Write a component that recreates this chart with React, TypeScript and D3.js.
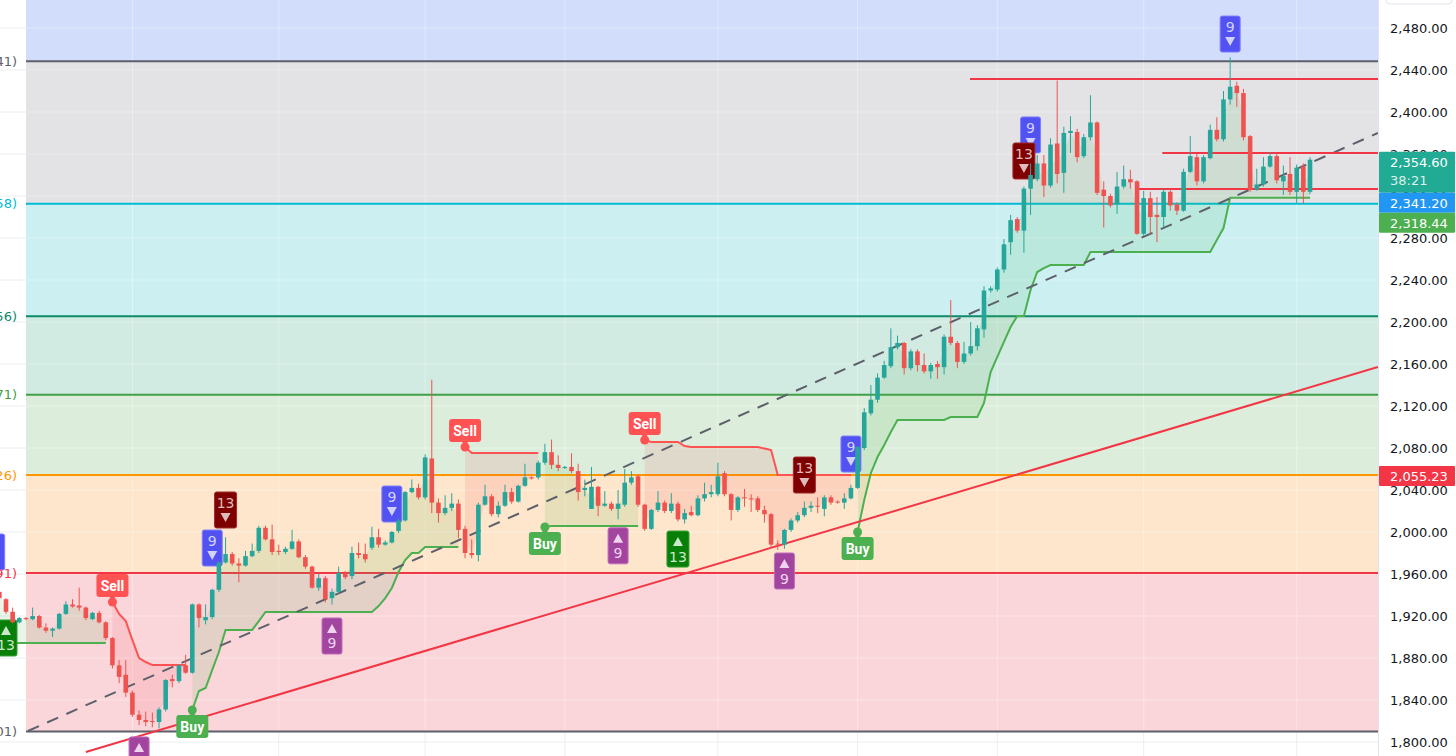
import React from "react";
import * as d3 from "d3";

const WIDTH = 1456;
const HEIGHT = 756;
const PLOT_RIGHT = 1378;
const FIB_LEFT = 26;

// OHLC candles: [open, high, low, close]
const candles: number[][] = [
  [1943,1945,1935,1937],[1936,1937,1922,1924],[1924,1928,1913,1914],[1914,1919,1913,1918],[1918,1919,1916,1917],
  [1917,1928,1916,1920],[1920,1921,1908,1909],[1909,1913,1904,1906],[1906,1909,1900,1908],[1908,1923,1907,1922],
  [1922,1934,1921,1931],[1931,1936,1928,1929],[1930,1947,1925,1928],[1928,1929,1916,1918],[1917,1924,1916,1923],
  [1923,1925,1913,1914],[1914,1915,1897,1899],[1899,1900,1870,1873],[1873,1878,1856,1862],[1864,1878,1843,1847],
  [1847,1849,1824,1826],[1826,1830,1816,1821],[1821,1829,1815,1819],[1820,1828,1814,1819],[1819,1833,1813,1831],
  [1831,1860,1829,1859],[1860,1864,1852,1858],[1858,1874,1856,1873],[1873,1883,1865,1866],[1866,1932,1865,1931],
  [1931,1932,1909,1918],[1916,1931,1912,1919],[1919,1946,1917,1945],[1945,1972,1943,1971],[1971,1995,1970,1979],
  [1979,1981,1968,1970],[1970,1975,1952,1968],[1968,1982,1967,1977],[1977,1989,1976,1982],[1982,2006,1980,2004],
  [2004,2006,1992,1993],[1993,2007,1978,1981],[1982,1988,1978,1981],[1981,1986,1979,1984],[1984,2002,1983,1991],
  [1991,1993,1975,1976],[1976,1978,1965,1967],[1967,1968,1946,1947],[1947,1960,1944,1956],[1956,1958,1933,1936],
  [1937,1946,1931,1943],[1943,1967,1941,1961],[1961,1963,1955,1957],[1958,1986,1955,1980],[1980,1990,1975,1978],
  [1979,1989,1971,1974],[1985,2005,1983,1995],[1995,2003,1985,1988],[1988,1992,1987,1990],[1990,2001,1989,2000],
  [2001,2013,1999,2011],[2011,2039,2010,2038],[2038,2050,2037,2042],[2042,2046,2031,2033],[2033,2074,2031,2071],
  [2070,2145,2018,2028],[2028,2032,2009,2018],[2018,2035,2016,2023],[2023,2037,2020,2027],[2027,2031,1994,2002],
  [2003,2006,1975,1980],[1980,1993,1975,1978],[1978,2028,1972,2026],[2026,2045,2025,2034],[2034,2036,2015,2017],
  [2017,2029,2014,2025],[2025,2045,2024,2038],[2038,2042,2027,2029],[2029,2045,2028,2044],[2044,2065,2043,2052],
  [2052,2053,2050,2051],[2052,2068,2050,2066],[2066,2084,2064,2076],[2076,2088,2060,2064],[2064,2073,2058,2061],
  [2061,2063,2060,2062],[2062,2075,2056,2058],[2058,2065,2030,2038],[2040,2050,2034,2042],[2022,2062,2022,2043],
  [2043,2044,2015,2025],[2025,2039,2024,2027],[2027,2029,2020,2022],[2022,2040,2012,2027],[2026,2060,2024,2047],
  [2047,2058,2045,2052],[2053,2055,2024,2026],[2026,2027,2001,2003],[2003,2022,2002,2021],[2021,2039,2019,2028],
  [2028,2030,2018,2020],[2020,2037,2018,2027],[2027,2029,2010,2012],[2012,2022,2008,2018],[2019,2025,2015,2016],
  [2016,2035,2015,2032],[2032,2047,2029,2036],[2036,2045,2033,2038],[2036,2066,2034,2053],[2056,2058,2034,2036],
  [2036,2037,2011,2021],[2021,2034,2019,2033],[2033,2041,2024,2032],[2032,2036,2019,2031],[2032,2034,2019,2021],
  [2021,2025,2009,2017],[2017,2018,1985,1988],[1989,1992,1983,1988],[1988,2003,1984,2002],[2002,2013,2000,2011],
  [2011,2019,2009,2016],[2016,2029,2014,2023],[2023,2029,2019,2025],[2025,2033,2018,2024],[2022,2035,2015,2033],
  [2033,2035,2026,2028],[2029,2030,2027,2028],[2028,2037,2022,2032],[2032,2045,2031,2042],[2042,2082,2041,2081],
  [2080,2118,2078,2114],[2113,2140,2111,2126],[2126,2151,2123,2147],[2147,2163,2146,2159],[2158,2194,2156,2176],
  [2176,2187,2174,2180],[2180,2181,2150,2156],[2156,2174,2154,2172],[2172,2174,2153,2159],[2159,2170,2151,2153],
  [2153,2161,2146,2159],[2160,2163,2146,2157],[2157,2188,2150,2186],[2186,2221,2178,2180],[2180,2182,2156,2162],
  [2162,2181,2160,2170],[2170,2200,2168,2177],[2177,2197,2173,2194],[2193,2234,2185,2230],[2230,2234,2228,2232],
  [2231,2252,2229,2250],[2250,2279,2247,2274],[2276,2302,2264,2297],[2298,2300,2285,2287],[2287,2329,2266,2327],
  [2327,2351,2302,2340],[2336,2359,2334,2351],[2351,2359,2319,2330],[2330,2375,2328,2369],[2370,2430,2332,2341],
  [2342,2386,2323,2380],[2380,2396,2361,2382],[2381,2384,2352,2357],[2358,2379,2356,2376],[2376,2416,2373,2390],
  [2390,2391,2321,2323],[2326,2334,2290,2320],[2320,2322,2309,2311],[2312,2343,2303,2329],[2329,2349,2327,2336],
  [2336,2345,2327,2333],[2334,2335,2283,2284],[2284,2325,2282,2318],[2318,2324,2284,2300],[2302,2319,2276,2300],
  [2300,2327,2290,2324],[2324,2327,2306,2311],[2312,2314,2302,2306],[2306,2346,2305,2343],[2343,2377,2342,2358],
  [2357,2360,2330,2334],[2334,2359,2332,2357],[2356,2388,2355,2383],[2383,2395,2372,2374],[2374,2420,2372,2412],
  [2412,2452,2407,2424],[2425,2429,2405,2418],[2418,2422,2373,2376],[2377,2378,2324,2326],[2326,2346,2325,2331],
  [2331,2357,2329,2348],[2348,2362,2347,2358],[2358,2361,2332,2335],[2334,2349,2321,2339],[2341,2357,2321,2324],
  [2324,2350,2313,2347],[2348,2351,2313,2324],[2324,2357,2322,2354.6],
];

const priceTicks = [1800,1840,1880,1920,1960,2000,2040,2080,2120,2160,2200,2240,2280,2320,2360,2400,2440,2480];

// Fibonacci retracement levels (top to bottom)
const fibPrices = [2448.41, 2312.58, 2205.56, 2130.71, 2054.26, 1960.91, 1810.01];
const fibLabels = ["1(2,448.41)", "0.786(2,312.58)", "0.618(2,205.56)", "0.5(2,130.71)", "0.382(2,054.26)", "0.236(1,960.91)", "0(1,810.01)"];
const fibColors = ["#5d606b", "#00bcd4", "#0c8a6a", "#43a047", "#ff9800", "#f23645", "#5d606b"];
const fibTopBand = "#d2ddfb";
const fibBands = ["#e3e3e6", "#ccf0f2", "#d1eae2", "#dceedb", "#fde6cb", "#fad6da"];

const timeGridIdx = [20, 42, 64, 85, 108, 129, 150, 172, 195];

// SuperTrend segments (dir 1 = up / green, -1 = down / red)
const stSegments = [
  { dir: 1, start: 0, values: [1894.3,1894.3,1894.3,1894.3,1894.3,1894.3,1894.3,1894.3,1894.3,1894.3,1894.3,1894.3,1894.3,1894.3,1894.3,1894.3,1894.3] },
  { dir: -1, start: 17, values: [1933.3,1921.9,1915.2,1897.1,1880,1876.2,1873.3,1873.3,1873.3,1873.3,1873.3,1873.3] },
  { dir: 1, start: 29, values: [1830.5,1848.6,1851.4,1868.6,1885.7,1906.7,1906.7,1906.7,1906.7,1906.7,1915.2,1923.8,
    1923.8,1923.8,1923.8,1923.8,1923.8,1923.8,1923.8,1923.8,1923.8,1923.8,1923.8,1923.8,1923.8,1923.8,1923.8,1923.8,
    1929.5,1937.1,1946.7,1961.9,1973.3,1980,1980,1985.7,1985.7,1985.7,1985.7,1985.7,1985.7] },
  { dir: -1, start: 70, values: [2081,2075.2,2075.2,2075.2,2075.2,2075.2,2075.2,2075.2,2075.2,2075.2,2075.2,2075.2] },
  { dir: 1, start: 82, values: [2004.8,2005.7,2005.7,2005.7,2005.7,2005.7,2005.7,2005.7,2005.7,2005.7,2005.7,2005.7,2005.7,2005.7,2005.7] },
  { dir: -1, start: 97, values: [2087.6,2085.7,2085.7,2085.7,2085.7,2085.7,2081.9,2081,2081,2081,2081,2081,2081,2081,2081,2081,2081,2081,
    2079.5,2078.1,2054.3,2054.3,2054.3,2054.3,2054.3,2054.3,2054.3,2054.3,2054.3,2054.3,2054.3,2054.3] },
  { dir: 1, start: 129, values: [2000,2030.5,2056.2,2071.4,2082.9,2095.2,2106.7,2106.7,2106.7,2106.7,2106.7,2106.7,2106.7,2106.7,
    2109.5,2109.5,2109.5,2109.5,2109.5,2122.9,2152.4,2166.7,2181,2195.2,2205.7,2205.7,2230.5,2247.6,2251.4,
    2254.3,2254.3,2254.3,2254.3,2254.3,2254.3,
    2266.7,2266.7,2266.7,2266.7,2266.7,2266.7,2266.7,2266.7,2266.7,2266.7,2266.7,2266.7,2266.7,2266.7,2266.7,2266.7,2266.7,2266.7,2266.7,
    2278.1,2289.5,2318.44,2318.44,2318.44,2318.44,2318.44,2318.44,2318.44,2318.44,2318.44,2318.44,2318.44,2318.44,2318.44] },
];

const signalIdx = [17, 29, 70, 82, 97, 129];
const signalText = ["Sell", "Buy", "Sell", "Buy", "Sell", "Buy"];

// TD sequential marks: index, kind, anchor price
const tdMarks = [
  { i: -0.7, kind: "s9", p: 1963.8 },
  { i: 32, kind: "s9", p: 1967.6 },
  { i: 34, kind: "s13", p: 2003.8 },
  { i: 59, kind: "s9", p: 2009.5 },
  { i: 121, kind: "s13", p: 2037.1 },
  { i: 128, kind: "s9", p: 2057.1 },
  { i: 155, kind: "s9", p: 2361 },
  { i: 154, kind: "s13", p: 2336.2 },
  { i: 185, kind: "s9", p: 2457.1 },
  { i: 21, kind: "b9", p: 1804.8 },
  { i: 50, kind: "b9", p: 1918.1 },
  { i: 93, kind: "b9", p: 2004 },
  { i: 118, kind: "b9", p: 1980 },
  { i: 1, kind: "b13", p: 1916.2 },
  { i: 102, kind: "b13", p: 2000.9 },
];

const resistanceStart = [145.9, 174.8, 171.2];
const resistancePrice = [2431.5, 2361, 2326.7];
const trendDashed = [[4.3, 1810.5], [207.2, 2380]];
const trendRed = [[13, 1790.5], [207.2, 2157.1]];

const priceLabelValues = [2354.6, 2341.2, 2318.44, 2055.23];
const priceLabelSub = ["38:21", "", "", ""];
const priceLabelColors = ["#22ab94", "#2196f3", "#4caf50", "#f23645"];

const tdStyle: Record<string, any> = {
  s9: { fill: "#5252f2", stroke: "#7f7fff", text: "#d2d2ff", num: "9", above: true, w: 20 },
  s13: { fill: "#7f0000", stroke: "#a02a2a", text: "#dcbcbc", num: "13", above: true, w: 22 },
  b9: { fill: "#a1459f", stroke: "#c06cbe", text: "#f0d4ef", num: "9", above: false, w: 20 },
  b13: { fill: "#087f08", stroke: "#32a032", text: "#cbe8cb", num: "13", above: false, w: 22 },
};

const FONT = "'DejaVu Sans', sans-serif";

export default function App() {
  const x = d3.scaleLinear().domain([0, 197]).range([6 - 6.653, 1310]);
  const y = d3.scaleLinear().domain([1800, 2480]).range([742, 28]);
  const fmt = d3.format(",.2f");
  const bw = 4.6;

  const lineGen = d3.line<[number, number]>().x((d) => x(d[0])).y((d) => y(d[1]));

  // price label layout (push down)
  let lastBottom = -Infinity;
  const labelBoxes = priceLabelValues.map((p, k) => {
    const h = priceLabelSub[k] ? 41 : 20;
    let top = y(p) - 8;
    if (top < lastBottom) top = lastBottom;
    lastBottom = top + h;
    return { top, h, p, k };
  });

  return (
    <svg width={WIDTH} height={HEIGHT} style={{ position: "fixed", left: 0, top: 0, background: "#fff" }} fontFamily={FONT}>
      <defs>
        <clipPath id="plot">
          <rect x={0} y={0} width={PLOT_RIGHT} height={HEIGHT} />
        </clipPath>
      </defs>
      <rect x={0} y={0} width={WIDTH} height={HEIGHT} fill="#ffffff" />
      <g clipPath="url(#plot)">
        {/* base grid */}
        {priceTicks.map((t) => (
          <line key={"g" + t} x1={0} x2={PLOT_RIGHT} y1={y(t)} y2={y(t)} stroke="#eceef2" />
        ))}
        {timeGridIdx.map((i) => (
          <line key={"v" + i} x1={x(i)} x2={x(i)} y1={0} y2={HEIGHT} stroke="#eceef2" />
        ))}
        {/* fib bands */}
        <rect x={FIB_LEFT} y={0} width={PLOT_RIGHT - FIB_LEFT} height={y(fibPrices[0])} fill={fibTopBand} />
        {fibBands.map((c, k) => (
          <rect key={"b" + k} x={FIB_LEFT} y={y(fibPrices[k])} width={PLOT_RIGHT - FIB_LEFT}
            height={y(fibPrices[k + 1]) - y(fibPrices[k])} fill={c} />
        ))}
        {/* grid over bands */}
        {priceTicks.filter((t) => t > fibPrices[6]).map((t) => (
          <line key={"gw" + t} x1={FIB_LEFT} x2={PLOT_RIGHT} y1={y(t)} y2={y(t)} stroke="rgba(255,255,255,0.35)" />
        ))}
        {timeGridIdx.map((i) => (
          <line key={"vw" + i} x1={x(i)} x2={x(i)} y1={0} y2={y(fibPrices[6])} stroke="rgba(255,255,255,0.35)" />
        ))}
        {/* fib lines */}
        {fibPrices.map((p, k) => (
          <line key={"f" + k} x1={FIB_LEFT} x2={PLOT_RIGHT} y1={y(p)} y2={y(p)} stroke={fibColors[k]} strokeWidth={2} />
        ))}
        {/* supertrend fills */}
        {stSegments.map((s, k) => {
          const pts = s.values.map((v, j) => {
            const c = candles[s.start + j];
            return { i: s.start + j, st: v, mid: (c[0] + c[3]) / 2 };
          });
          const area = d3.area<any>().x((d) => x(d.i)).y0((d) => y(d.st)).y1((d) => y(d.mid));
          return (
            <path key={"sf" + k} d={area(pts) || ""}
              fill={s.dir > 0 ? "rgba(76,175,80,0.13)" : "rgba(242,54,69,0.11)"} />
          );
        })}
        {/* supertrend lines */}
        {stSegments.map((s, k) => {
          const pts = s.values.map((v, j) => [s.start + j, v] as [number, number]);
          return (
            <path key={"sl" + k} d={lineGen(pts) || ""} fill="none"
              stroke={s.dir > 0 ? "#4caf50" : "#ff5252"} strokeWidth={2} />
          );
        })}
        {/* trend lines */}
        <path d={lineGen(trendDashed as [number, number][]) || ""} stroke="#5d606b" strokeWidth={2}
          strokeDasharray="12 9" fill="none" />
        <path d={lineGen(trendRed as [number, number][]) || ""} stroke="#f23645" strokeWidth={2} fill="none" />
        {resistancePrice.map((p, k) => (
          <line key={"r" + k} x1={x(resistanceStart[k])} x2={PLOT_RIGHT} y1={y(p)} y2={y(p)} stroke="#f23645" strokeWidth={2} />
        ))}
        {/* TD sequential boxes */}
        {tdMarks.map((m, k) => {
          const st = tdStyle[m.kind];
          const cx = x(m.i);
          const h = 36;
          const top = st.above ? y(m.p) - h : y(m.p);
          const numY = st.above ? top + 11 : top + 25.5;
          const triY = st.above ? top + 25.5 : top + 10.5;
          const tri = st.above
            ? `M${cx - 5},${triY - 4.5}L${cx + 5},${triY - 4.5}L${cx},${triY + 4.5}Z`
            : `M${cx - 5},${triY + 4.5}L${cx + 5},${triY + 4.5}L${cx},${triY - 4.5}Z`;
          return (
            <g key={"td" + k}>
              <rect x={cx - st.w / 2} y={top} width={st.w} height={h} rx={2} fill={st.fill} stroke={st.stroke} strokeWidth={1} />
              <text x={cx} y={numY} fill={st.text} fontSize={14} textAnchor="middle" dominantBaseline="central">{st.num}</text>
              <path d={tri} fill={st.text} />
            </g>
          );
        })}
        {/* Buy / Sell signals */}
        {signalIdx.map((i, k) => {
          const seg = stSegments.find((s) => s.start === i)!;
          const yl = y(seg.values[0]);
          const cx = x(i);
          const sell = signalText[k] === "Sell";
          const col = sell ? "#ff5252" : "#4caf50";
          const top = sell ? yl - 28 : yl + 5;
          return (
            <g key={"sg" + k}>
              <circle cx={cx} cy={yl} r={4.5} fill={col} />
              <path d={sell ? `M${cx - 4},${yl - 6}L${cx + 4},${yl - 6}L${cx},${yl - 2}Z` : `M${cx - 4},${yl + 6}L${cx + 4},${yl + 6}L${cx},${yl + 2}Z`} fill={col} />
              <rect x={cx - 16} y={top} width={32} height={23} rx={3} fill={col} />
              <text x={cx} y={top + 12} fill="#ffffff" fontSize={14} fontWeight="bold" fontFamily="Roboto, sans-serif"
                textAnchor="middle" dominantBaseline="central">{signalText[k]}</text>
            </g>
          );
        })}
        {/* candles */}
        {candles.map((c, i) => {
          const [o, h, l, cl] = c;
          const up = cl >= o;
          const col = up ? "#26a69a" : "#ef5350";
          const cx = x(i);
          const yt = y(Math.max(o, cl));
          const yb = y(Math.min(o, cl));
          return (
            <g key={"c" + i}>
              <line x1={cx} x2={cx} y1={y(h)} y2={y(l)} stroke={col} strokeWidth={1} />
              <rect x={cx - bw / 2} y={yt} width={bw} height={Math.max(1, yb - yt)} fill={col} />
            </g>
          );
        })}
      </g>
      {/* left fib labels */}
      {fibPrices.map((p, k) => (
        <text key={"fl" + k} x={17} y={y(p)} fill={fibColors[k]} fontSize={13} textAnchor="end" dominantBaseline="central">
          {fibLabels[k]}
        </text>
      ))}
      {/* right axis */}
      <rect x={PLOT_RIGHT} y={0} width={WIDTH - PLOT_RIGHT} height={HEIGHT} fill="#ffffff" />
      <line x1={PLOT_RIGHT + 0.5} x2={PLOT_RIGHT + 0.5} y1={0} y2={HEIGHT} stroke="#e0e3eb" />
      <rect x={1386} y={-12} width={66} height={16} rx={4} fill="none" stroke="#e0e3eb" />
      {priceTicks.map((t) => (
        <text key={"t" + t} x={1390} y={y(t)} fontSize={13} fill="#131722" dominantBaseline="central">{fmt(t)}</text>
      ))}
      {labelBoxes.map((b) => (
        <g key={"pl" + b.k}>
          <rect x={PLOT_RIGHT + 1} y={b.top} width={WIDTH - PLOT_RIGHT - 2} height={b.h} rx={1} fill={priceLabelColors[b.k]} />
          <text x={1390} y={b.top + 10.5} fontSize={13} fill="#ffffff" dominantBaseline="central">{fmt(b.p)}</text>
          {priceLabelSub[b.k] && (
            <text x={1390} y={b.top + 29} fontSize={13} fill="rgba(255,255,255,0.85)" dominantBaseline="central">{priceLabelSub[b.k]}</text>
          )}
        </g>
      ))}
    </svg>
  );
}
